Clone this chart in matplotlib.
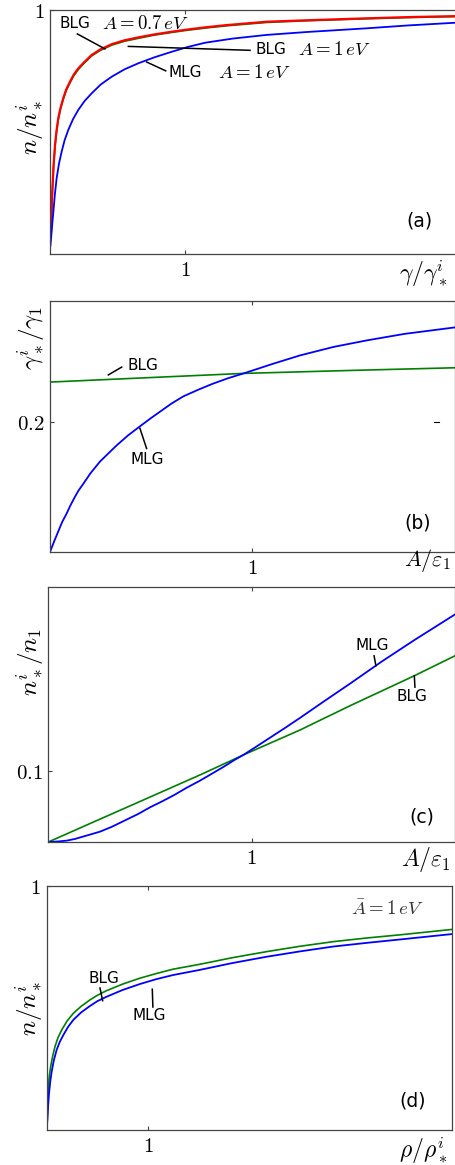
import matplotlib
matplotlib.use("Agg")
import matplotlib.pyplot as plt

plt.rcParams['mathtext.fontset'] = 'cm'
plt.rcParams['font.family'] = ['DejaVu Sans']

# ---------------- data ----------------
# panel (a): n/n* vs gamma/gamma*
a_x_red = [0.0, 0.007, 0.012, 0.017, 0.026, 0.037, 0.048, 0.061, 0.078, 0.098, 0.12, 0.148, 0.175, 0.209,
           0.25, 0.308, 0.37, 0.456, 0.55, 0.653, 0.77, 0.899, 1.0, 1.146, 1.3, 1.60, 1.9, 2.34, 2.65, 3.0]
a_y_red = [0.07, 0.091, 0.18, 0.256, 0.36, 0.447, 0.505, 0.557, 0.60, 0.639, 0.675, 0.707, 0.735, 0.761,
           0.785, 0.816, 0.838, 0.860, 0.876, 0.888, 0.900, 0.911, 0.919, 0.929, 0.938, 0.952, 0.958, 0.966, 0.971, 0.975]
a_x_green = a_x_red
a_y_green = [0.068, 0.088, 0.176, 0.251, 0.355, 0.441, 0.499, 0.551, 0.595, 0.634, 0.670, 0.702, 0.730, 0.756,
             0.781, 0.812, 0.834, 0.856, 0.872, 0.884, 0.897, 0.908, 0.916, 0.926, 0.935, 0.949, 0.956, 0.964, 0.969, 0.973]
a_x_blue = [0.003, 0.007, 0.016, 0.025, 0.036, 0.049, 0.066, 0.086, 0.108, 0.135, 0.17, 0.209, 0.255, 0.308,
            0.375, 0.456, 0.55, 0.653, 0.77, 0.899, 1.02, 1.146, 1.35, 1.60, 1.9, 2.34, 2.65, 3.0]
a_y_blue = [0.035, 0.058, 0.12, 0.175, 0.245, 0.311, 0.37, 0.420, 0.467, 0.509, 0.553, 0.591, 0.627, 0.659,
            0.695, 0.727, 0.757, 0.782, 0.806, 0.829, 0.849, 0.866, 0.883, 0.898, 0.910, 0.925, 0.937, 0.948]

# panel (b): gamma*/gamma1 vs A/eps1
b_x_mlg = [0.0, 0.02, 0.04, 0.06, 0.082, 0.10, 0.12, 0.14, 0.165, 0.2, 0.247, 0.29, 0.33, 0.385, 0.444,
           0.5, 0.55, 0.6, 0.658, 0.73, 0.80, 0.88, 0.963, 1.1, 1.235, 1.4, 1.564, 1.75, 2.0]
b_y_mlg = [0.0, 0.016, 0.031, 0.046, 0.059, 0.071, 0.083, 0.094, 0.105, 0.121, 0.139, 0.152, 0.164, 0.179, 0.193,
           0.206, 0.217, 0.228, 0.239, 0.249, 0.258, 0.267, 0.275, 0.289, 0.302, 0.315, 0.325, 0.335, 0.345]
b_x_blg = [0.0, 0.5, 0.963, 1.5, 2.0]
b_y_blg = [0.261, 0.268, 0.2744, 0.279, 0.283]

# panel (c): n*/n1 vs A/eps1
c_x_mlg = [0.0, 0.05, 0.09, 0.13, 0.17, 0.21, 0.254, 0.31, 0.375, 0.44, 0.5, 0.56, 0.62, 0.68, 0.746, 0.80,
           0.86, 0.91, 0.967, 1.03, 1.1, 1.17, 1.238, 1.36, 1.484, 1.64, 1.80, 1.9, 2.0]
c_y_mlg = [0.0, 0.0008, 0.0019, 0.0042, 0.0075, 0.0108, 0.0145, 0.021, 0.030, 0.039, 0.0486, 0.057, 0.066, 0.076,
           0.086, 0.095, 0.105, 0.114, 0.1234, 0.135, 0.148, 0.161, 0.174, 0.198, 0.222, 0.253, 0.283, 0.301, 0.319]
c_x_blg = [0.0, 0.254, 0.5, 0.746, 0.967, 1.238, 1.484, 1.80, 2.0]
c_y_blg = [0.0, 0.032, 0.063, 0.094, 0.123, 0.157, 0.191, 0.233, 0.261]

# panel (d): n/n* vs rho/rho*
d_x_blg = [0.0, 0.002, 0.007, 0.016, 0.026, 0.039, 0.06, 0.082, 0.11, 0.148, 0.2, 0.262, 0.34, 0.426, 0.5,
           0.590, 0.75, 0.918, 1.08, 1.246, 1.509, 1.83, 2.17, 2.5, 2.83, 3.16, 3.49, 4.0]
d_y_blg = [0.0, 0.03, 0.068, 0.178, 0.222, 0.260, 0.305, 0.342, 0.377, 0.410, 0.446, 0.478, 0.507, 0.533, 0.552,
           0.571, 0.598, 0.622, 0.641, 0.659, 0.679, 0.706, 0.731, 0.753, 0.772, 0.787, 0.800, 0.822]
d_x_mlg = [0.0, 0.002, 0.007, 0.014, 0.023, 0.035, 0.049, 0.07, 0.098, 0.13, 0.164, 0.21, 0.262, 0.34, 0.426,
           0.5, 0.590, 0.75, 0.918, 1.08, 1.246, 1.509, 1.83, 2.17, 2.5, 2.83, 3.16, 3.49, 4.0]
d_y_mlg = [0.0, 0.018, 0.041, 0.10, 0.150, 0.198, 0.239, 0.285, 0.328, 0.362, 0.389, 0.422, 0.451, 0.482, 0.508,
           0.528, 0.546, 0.574, 0.598, 0.618, 0.635, 0.656, 0.684, 0.710, 0.732, 0.752, 0.767, 0.781, 0.803]

BLUE = '#0000ff'
GREEN = '#008000'
RED = '#ff0000'
SPINE = '#444444'

W, H = 456, 1165
fig = plt.figure(figsize=(W / 100, H / 100), dpi=100)


def make_ax(left, top, right, bottom):
    return fig.add_axes([left / W, 1 - bottom / H, (right - left) / W, (bottom - top) / H])


def style(ax, xlim, ylim, xt, yt):
    ax.set_xlim(*xlim)
    ax.set_ylim(*ylim)
    ax.set_xticks([xt[0]])
    ax.set_xticklabels([xt[1]])
    ax.set_yticks([yt[0]])
    ax.set_yticklabels([yt[1]])
    ax.tick_params(direction='in', length=3, width=0.8, color=SPINE, labelsize=15,
                   top=True, bottom=True, left=True, right=False, pad=4)
    for s in ax.spines.values():
        s.set_color(SPINE)
        s.set_linewidth(0.9)


def note(ax, text, xy_text, p1, p2, ha='left', size=11, color='black'):
    ax.text(xy_text[0], xy_text[1], text, ha=ha, va='center', fontsize=size, color=color)
    if p1 is not None:
        ax.plot([p1[0], p2[0]], [p1[1], p2[1]], color='black', lw=1.1)


MATH = 13.5

# ---------- (a) ----------
axa = make_ax(50, 10, 456, 254.3)
axa.plot(a_x_green, a_y_green, color=GREEN, lw=1.2)
axa.plot(a_x_red, a_y_red, color=RED, lw=1.6)
axa.plot(a_x_blue, a_y_blue, color=BLUE, lw=1.3)
style(axa, (0, 3), (0, 1), (1, '$1$'), (1, '$1$'))
note(axa, 'BLG', (0.069, 0.943), (0.202, 0.902), (0.406, 0.841))
axa.text(0.382, 0.943, '$A=0.7\\,eV$', ha='left', va='center', fontsize=MATH)
note(axa, 'BLG', (1.515, 0.837), (0.579, 0.851), (1.478, 0.835))
axa.text(1.83, 0.837, '$A=1\\,eV$', ha='left', va='center', fontsize=MATH)
note(axa, 'MLG', (0.874, 0.743), (0.714, 0.787), (0.855, 0.751))
axa.text(1.244, 0.743, '$A=1\\,eV$', ha='left', va='center', fontsize=MATH)
axa.text(2.727, 0.137, '(a)', ha='center', va='center', fontsize=13.5)
axa.text(0.919, -0.077, '$\\gamma/\\gamma_*^i$', transform=axa.transAxes,
         ha='center', va='center', fontsize=17)
axa.text(-0.049, 0.52, '$n/n_*^i$', transform=axa.transAxes, rotation=90,
         ha='center', va='center', fontsize=18)

# ---------- (b) ----------
axb = make_ax(50, 300.7, 455, 552)
axb.plot(b_x_blg, b_y_blg, color=GREEN, lw=1.2)
axb.plot(b_x_mlg, b_y_mlg, color=BLUE, lw=1.3)
style(axb, (0, 2), (0, 0.386), (1, '$1$'), (0.2, '$0.2$'))
note(axb, 'BLG', (0.382, 0.2867), (0.288, 0.272), (0.354, 0.284))
note(axb, 'MLG', (0.398, 0.142), (0.444, 0.190), (0.477, 0.159))
axb.text(1.817, 0.044, '(b)', ha='center', va='center', fontsize=13.5)
axb.plot([0.948, 0.960], [0.518, 0.518], transform=axb.transAxes, color='black', lw=0.8)
axb.text(0.931, -0.032, '$A/\\varepsilon_1$', transform=axb.transAxes,
         ha='center', va='center', fontsize=16)
axb.text(-0.047, 0.85, '$\\gamma_*^i/\\gamma_1$', transform=axb.transAxes, rotation=90,
         ha='center', va='center', fontsize=18)

# ---------- (c) ----------
axc = make_ax(48.3, 587.3, 455, 842)
axc.plot(c_x_blg, c_y_blg, color=GREEN, lw=1.2)
axc.plot(c_x_mlg, c_y_mlg, color=BLUE, lw=1.3)
style(axc, (0, 2), (0, 0.357), (1, '$1$'), (0.1, '$0.1$'))
note(axc, 'MLG', (1.595, 0.275), (1.602, 0.261), (1.611, 0.247), ha='center')
note(axc, 'BLG', (1.789, 0.204), (1.800, 0.233), (1.803, 0.217), ha='center')
axc.text(1.836, 0.0355, '(c)', ha='center', va='center', fontsize=13.5)
axc.text(0.929, -0.067, '$A/\\varepsilon_1$', transform=axc.transAxes,
         ha='center', va='center', fontsize=17)
axc.text(-0.045, 0.707, '$n_*^i/n_1$', transform=axc.transAxes, rotation=90,
         ha='center', va='center', fontsize=18)

# ---------- (d) ----------
axd = make_ax(46.7, 886, 452, 1130)
axd.plot(d_x_blg, d_y_blg, color=GREEN, lw=1.2)
axd.plot(d_x_mlg, d_y_mlg, color=BLUE, lw=1.3)
style(axd, (0, 4), (0, 1), (1, '$1$'), (1, '$1$'))
note(axd, 'BLG', (0.569, 0.620), (0.526, 0.582), (0.552, 0.530), ha='center')
note(axd, 'MLG', (1.012, 0.470), (1.042, 0.577), (1.048, 0.504), ha='center')
axd.text(3.356, 0.908, '$\\bar{A}=1\\,eV$', ha='center', va='center', fontsize=MATH, color='#333333')
axd.text(3.615, 0.117, '(d)', ha='center', va='center', fontsize=13.5)
axd.text(0.928, -0.083, '$\\rho/\\rho_*^i$', transform=axd.transAxes,
         ha='center', va='center', fontsize=17)
axd.text(-0.044, 0.5, '$n/n_*^i$', transform=axd.transAxes, rotation=90,
         ha='center', va='center', fontsize=18)

fig.savefig('out.png', dpi=100)
